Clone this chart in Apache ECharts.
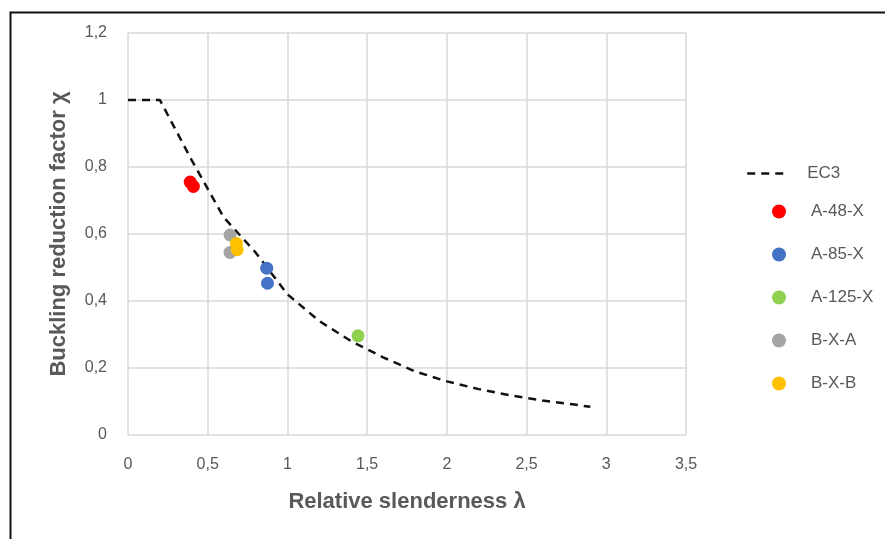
<!DOCTYPE html>
<html>
<head>
<meta charset="utf-8">
<script src="https://cdn.jsdelivr.net/npm/echarts@6/dist/echarts.min.js"></script>
<style>html,body{margin:0;padding:0;background:#fff;}#c{width:885px;height:539px;}</style>
</head>
<body>
<div id="c"></div>
<script>
// EC3 buckling curve
const ec3Lambda = [0, 0.2, 0.4, 0.6, 0.8, 1.0, 1.2, 1.4, 1.6, 1.8, 2.0, 2.2, 2.4, 2.6, 2.8, 2.9];
const ec3Chi    = [1, 1, 0.82, 0.65, 0.545, 0.42, 0.34, 0.28, 0.232, 0.19, 0.16, 0.137, 0.118, 0.103, 0.091, 0.084];

// Test results
const a48Lambda  = [0.39, 0.41];   const a48Chi  = [0.755, 0.742];
const a85Lambda  = [0.87, 0.875];  const a85Chi  = [0.498, 0.453];
const a125Lambda = [1.443];        const a125Chi = [0.296];
const bxaLambda  = [0.64, 0.64];   const bxaChi  = [0.597, 0.545];
const bxbLambda  = [0.68, 0.685];  const bxbChi  = [0.572, 0.553];

const xTicks = [0, 0.5, 1, 1.5, 2, 2.5, 3, 3.5];
const yTicks = [0, 0.2, 0.4, 0.6, 0.8, 1, 1.2];

const pairs = (xs, ys) => xs.map((x, i) => [x, ys[i]]);
const fmt = v => String(v).replace('.', ',');
const FONT = 'Liberation Sans';
const TXT = '#595959';

const chart = echarts.init(document.getElementById('c'), null, {renderer: 'canvas'});
const scatter = (name, xs, ys, color) => ({
  name, type: 'scatter', data: pairs(xs, ys), symbol: 'circle', symbolSize: 13,
  itemStyle: {color, opacity: 1}, z: 3
});

chart.setOption({
  animation: false,
  backgroundColor: '#fff',
  textStyle: {fontFamily: FONT},
  graphic: [{
    type: 'rect', left: 8, top: 10, shape: {width: 1000, height: 1000},
    style: {fill: 'none', stroke: '#111', lineWidth: 2}, silent: true
  }],
  grid: {left: 128, top: 33, width: 558, height: 402, containLabel: false},
  xAxis: {
    type: 'value', min: xTicks[0], max: xTicks[xTicks.length - 1], interval: 0.5,
    name: 'Relative slenderness λ', nameLocation: 'middle', nameGap: 56,
    nameTextStyle: {fontSize: 22, fontWeight: 'bold', color: TXT, fontFamily: FONT},
    axisLine: {show: false}, axisTick: {show: false},
    axisLabel: {color: TXT, fontSize: 16, margin: 22, formatter: fmt, fontFamily: FONT},
    splitLine: {show: true, lineStyle: {color: '#d9d9d9', width: 1.5}}
  },
  yAxis: {
    type: 'value', min: yTicks[0], max: yTicks[yTicks.length - 1], interval: 0.2,
    name: 'Buckling reduction factor χ', nameLocation: 'middle', nameGap: 58, nameRotate: 90,
    nameTextStyle: {fontSize: 22, fontWeight: 'bold', color: TXT, fontFamily: FONT},
    axisLine: {show: false}, axisTick: {show: false},
    axisLabel: {color: TXT, fontSize: 16, margin: 21, formatter: fmt, fontFamily: FONT},
    splitLine: {show: true, lineStyle: {color: '#d9d9d9', width: 1.5}}
  },
  legend: [{
    data: ['EC3'], orient: 'vertical', left: 741, top: 160,
    itemWidth: 40, itemHeight: 14, itemStyle: {opacity: 0},
    lineStyle: {color: '#111', width: 2.5, type: [8, 6]},
    textStyle: {color: TXT, fontSize: 17, fontFamily: FONT, lineHeight: 14, padding: [0, 0, 0, 15]}
  }, {
    data: ['A-48-X', 'A-85-X', 'A-125-X', 'B-X-A', 'B-X-B'], orient: 'vertical',
    left: 767, top: 198, itemWidth: 14, itemHeight: 14, itemGap: 26, icon: 'circle',
    textStyle: {color: TXT, fontSize: 17, fontFamily: FONT, lineHeight: 14, padding: [0, 0, 0, 20]}
  }],
  series: [
    {
      name: 'EC3', type: 'line', data: pairs(ec3Lambda, ec3Chi), showSymbol: false, symbol: 'none',
      smooth: false, lineStyle: {color: '#111', width: 2.5, type: [8, 6]}, itemStyle: {color: '#111'}, z: 2
    },
    scatter('A-48-X', a48Lambda, a48Chi, '#ff0000'),
    scatter('A-85-X', a85Lambda, a85Chi, '#4472c4'),
    scatter('A-125-X', a125Lambda, a125Chi, '#8fd14f'),
    scatter('B-X-A', bxaLambda, bxaChi, '#a5a5a5'),
    scatter('B-X-B', bxbLambda, bxbChi, '#ffc000')
  ]
});
</script>
</body>
</html>
